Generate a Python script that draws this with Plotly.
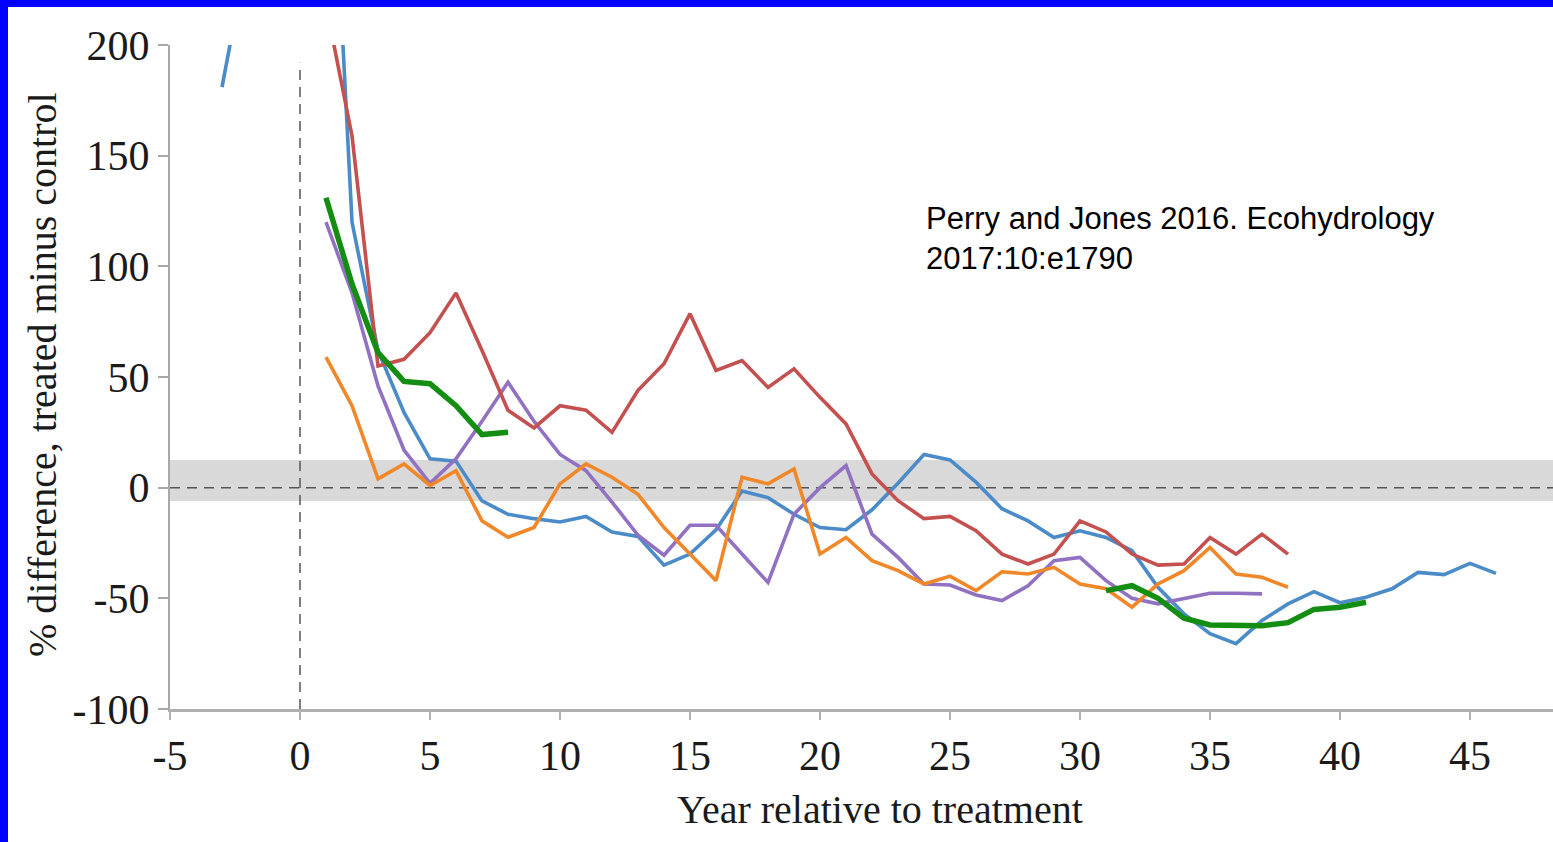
import plotly.graph_objects as go

# Year relative to treatment for each record
blue_years = list(range(-3, 47))
blue_vals = [181, 243, None, None, 350, 120, 62, 34, 13, 12,
             -6, -12, -14, -15.5, -13, -20, -22, -35, -30, -19,
             -1.5, -4.5, -12, -18, -19, -10, 2, 15, 12.5, 2.5,
             -9.5, -15, -22.5, -19.5, -22.5, -28.5, -45, -57, -66, -70.5,
             -60, -52.5, -47, -52, -49.5, -45.7, -38.3, -39.3, -34.2, -38.7]

red_years = list(range(1, 39))
red_vals = [218, 159, 55, 58, 70, 88, 62, 35, 27, 37,
            35, 25, 44, 56, 78.6, 53, 57.4, 45.3, 53.7, 40.8,
            28.8, 6.2, -5.9, -14, -13, -19.4, -30, -34.5, -30, -15,
            -20, -30, -35, -34.5, -22.5, -30, -21, -30]

orange_years = list(range(1, 39))
orange_vals = [59, 37, 4, 10.7, 1, 7.7, -15, -22.4, -18, 1.7,
               10.7, 4.7, -3, -18, -30, -42, 4.7, 1.7, 8.5, -30,
               -22.5, -33, -37.5, -43.5, -40, -46.5, -38, -39, -36, -43.5,
               -45.7, -54, -43.5, -37.5, -27, -39, -40.5, -45]

purple_years = list(range(1, 38))
purple_vals = [120, 88, 46, 17, 2, 13, 30, 47.6, 30, 15,
               7.7, -6.5, -21.5, -30.5, -17, -17, -30, -42.8, -12, 0,
               10, -21, -31.5, -43.5, -44, -48.5, -51, -44.3, -33, -31.5,
               -42, -50, -52.5, -50, -47.7, -47.7, -48]

green_early_years = list(range(1, 9))
green_early_vals = [131, 92, 61, 48, 47, 37, 24, 25]
green_late_years = list(range(31, 42))
green_late_vals = [-46.5, -44.3, -50, -59, -62, -62.4, -62.4, -61, -55, -54, -51.8]

x_ticks = [-5, 0, 5, 10, 15, 20, 25, 30, 35, 40, 45]
x_tick_text = ["-5", "0", "5", "10", "15", "20", "25", "30", "35", "40", "45"]
y_ticks = [-100, -50, 0, 50, 100, 150, 200]
y_tick_text = ["-100", "-50", "0", "50", "100", "150", "200"]

BLUE = "#4a8bc8"
RED = "#c4504f"
ORANGE = "#f0882a"
PURPLE = "#9171c2"
GREEN = "#138e13"

W, H = 1553, 842
ML, MR, MT, MB = 170, 0, 45, 133
PW, PH = W - ML - MR, H - MT - MB


def px_x(p):
    return (p - ML) / PW


def px_y(p):
    return (H - MB - p) / PH


fig = go.Figure()


def add_line(xs, ys, color, width):
    fig.add_trace(go.Scatter(x=xs, y=ys, mode="lines",
                             line=dict(color=color, width=width),
                             connectgaps=False, hoverinfo="skip"))


add_line(blue_years, blue_vals, BLUE, 3.6)
add_line(purple_years, purple_vals, PURPLE, 3.6)
add_line(orange_years, orange_vals, ORANGE, 3.6)
add_line(red_years, red_vals, RED, 3.6)
add_line(green_early_years, green_early_vals, GREEN, 5.5)
add_line(green_late_years, green_late_vals, GREEN, 5.5)

serif = "Liberation Serif, Times New Roman, serif"

shapes = [
    # band of no change around zero
    dict(type="rect", xref="paper", yref="y", x0=0, x1=1, y0=-6, y1=12.5,
         fillcolor="#d9d9d9", line=dict(width=0), layer="below"),
    dict(type="line", xref="paper", yref="y", x0=0, x1=1, y0=0, y1=0,
         line=dict(color="#555555", width=1.5, dash="10px,7px"), layer="below"),
    dict(type="line", xref="x", yref="y", x0=0, x1=0, y0=-100, y1=192,
         line=dict(color="#555555", width=1.5, dash="10px,7px"), layer="below"),
    # frame edges
    dict(type="rect", xref="paper", yref="paper", x0=px_x(0), x1=px_x(W),
         y0=px_y(7), y1=px_y(0), fillcolor="#0000ff", line=dict(width=0)),
    dict(type="rect", xref="paper", yref="paper", x0=px_x(0), x1=px_x(8),
         y0=px_y(H), y1=px_y(0), fillcolor="#0000ff", line=dict(width=0)),
]

annotations = [
    dict(text="Perry and Jones 2016. Ecohydrology<br>2017:10:e1790",
         xref="paper", yref="paper", x=px_x(924), y=px_y(239),
         xanchor="left", yanchor="middle", align="left", showarrow=False,
         font=dict(family="Liberation Sans, Arial, sans-serif", size=31, color="#000000")),
    dict(text="Year relative to treatment", xref="paper", yref="paper",
         x=px_x(880), y=px_y(810), xanchor="center", yanchor="middle",
         showarrow=False, font=dict(family=serif, size=40, color="#1a1a1a")),
    dict(text="% difference, treated minus control", xref="paper", yref="paper",
         x=px_x(42), y=px_y(375), xanchor="center", yanchor="middle",
         textangle=-90, showarrow=False,
         font=dict(family=serif, size=40, color="#1a1a1a")),
]

fig.update_layout(
    width=W, height=H,
    margin=dict(l=ML, r=MR, t=MT, b=MB, pad=0),
    paper_bgcolor="white", plot_bgcolor="white",
    showlegend=False,
    shapes=shapes,
    annotations=annotations,
)

fig.update_xaxes(
    range=[-5, -5 + PW / 26.0], tickvals=x_ticks, ticktext=x_tick_text,
    showline=True, linecolor="#b0b0b0", linewidth=3,
    ticks="outside", ticklen=8, tickwidth=2, tickcolor="#b0b0b0",
    showgrid=False, zeroline=False,
    tickfont=dict(family=serif, size=42, color="#1a1a1a"),
)
fig.update_yaxes(
    range=[-100, 200], tickvals=y_ticks, ticktext=y_tick_text,
    showline=True, linecolor="#a8a8a8", linewidth=2,
    ticks="outside", ticklen=10, tickwidth=2, tickcolor="#a8a8a8",
    showgrid=False, zeroline=False,
    tickfont=dict(family=serif, size=42, color="#1a1a1a"),
)

fig.write_html("out.html")
